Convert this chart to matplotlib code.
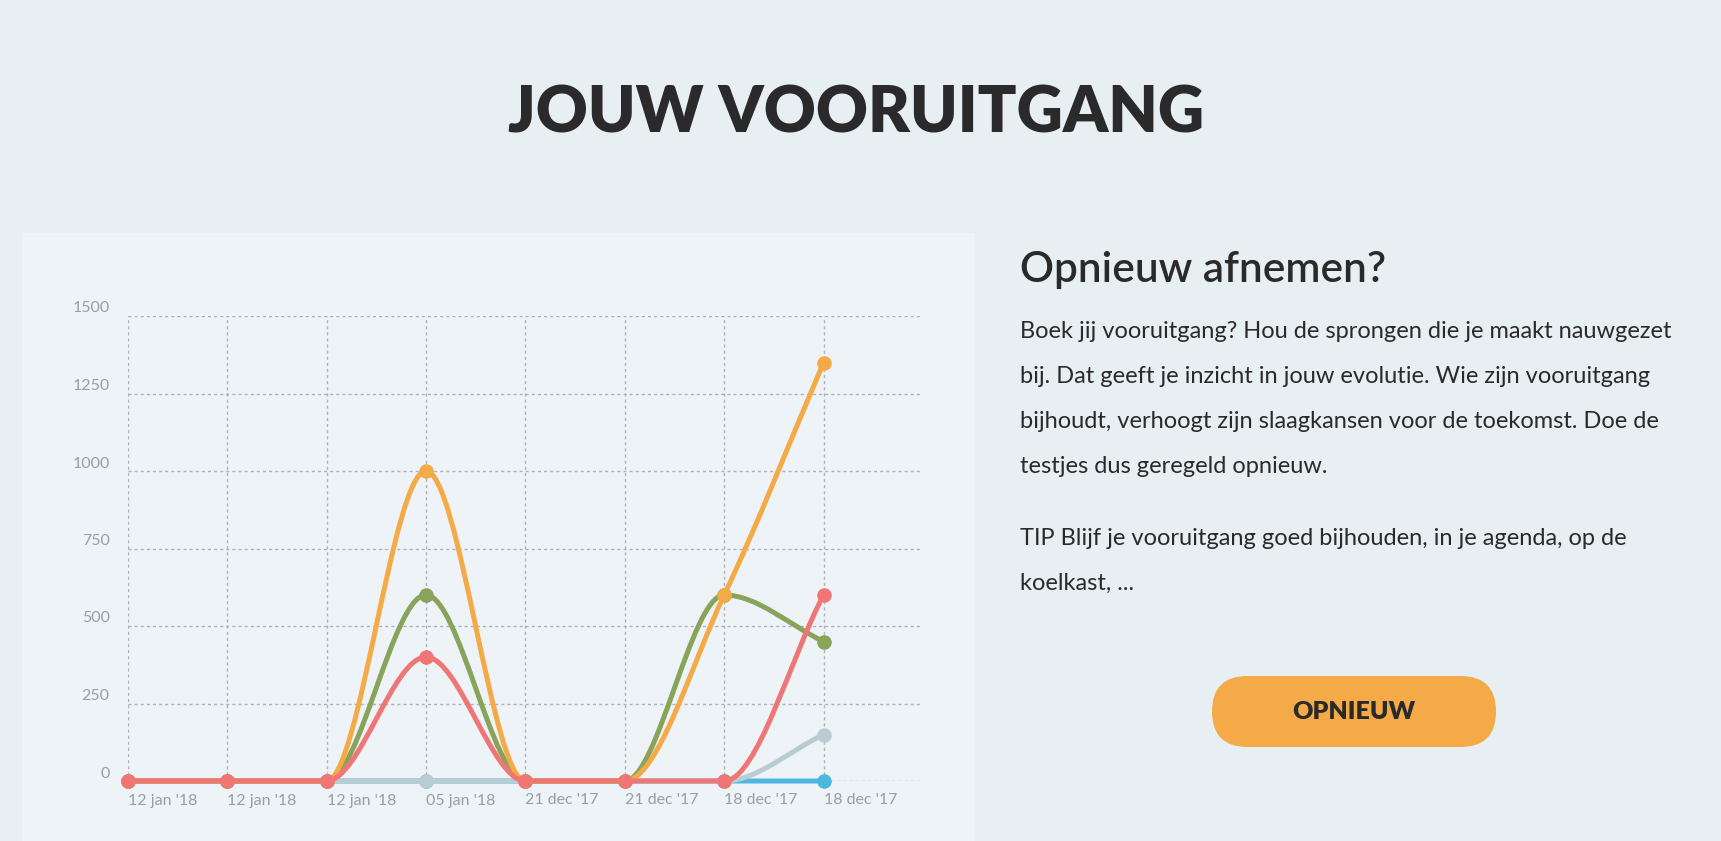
import numpy as np
import matplotlib
matplotlib.use('Agg')
import matplotlib.pyplot as plt
from matplotlib.path import Path
from matplotlib.patches import PathPatch, Rectangle, FancyBboxPatch
from matplotlib.transforms import ScaledTranslation

# --- data ---
dates = ["12 jan '18", "12 jan '18", "12 jan '18", "05 jan '18",
         "21 dec '17", "21 dec '17", "18 dec '17", "18 dec '17"]
y_ticks = [0, 250, 500, 750, 1000, 1250, 1500]

blue   = [0, 0, 0, 0, 0, 0, 0, 0]
grey   = [0, 0, 0, 0, 0, 0, 0, 150]
green  = [0, 0, 0, 600, 0, 0, 600, 450]
orange = [0, 0, 0, 1000, 0, 0, 600, 1350]
red    = [0, 0, 0, 400, 0, 0, 0, 600]

# drawn bottom -> top
series = [(blue, '#4cb8df'), (grey, '#b9ccd2'), (green, '#88a35a'),
          (orange, '#f5aa48'), (red, '#f07676')]

title = "JOUW VOORUITGANG"
subtitle = "Opnieuw afnemen?"
body_lines = ["Boek jij vooruitgang? Hou de sprongen die je maakt nauwgezet",
              "bij. Dat geeft je inzicht in jouw evolutie. Wie zijn vooruitgang",
              "bijhoudt, verhoogt zijn slaagkansen voor de toekomst. Doe de",
              "testjes dus geregeld opnieuw."]
tip_lines = ["TIP Blijf je vooruitgang goed bijhouden, in je agenda, op de",
             "koelkast, ..."]
button_text = "OPNIEUW"

page_bg = '#e8eff3'
panel_bg = '#eef3f7'
ink = '#2a2a2a'


def monotone_path(xs, ys):
    # monotone cubic (Fritsch-Carlson) as bezier segments
    n = len(xs)
    d = [(ys[i + 1] - ys[i]) / (xs[i + 1] - xs[i]) for i in range(n - 1)]
    m = [0.0] * n
    for i in range(n):
        if i == 0:
            m[i] = d[0]
        elif i == n - 1:
            m[i] = d[-1]
        elif np.sign(d[i - 1]) != np.sign(d[i]):
            m[i] = 0.0
        else:
            m[i] = (d[i - 1] + d[i]) / 2
    for i in range(n - 1):
        if d[i] == 0:
            m[i] = m[i + 1] = 0.0
            continue
        a = m[i] / d[i]
        b = m[i + 1] / d[i]
        s = a * a + b * b
        if s > 9:
            t = 3 / np.sqrt(s)
            m[i] = a * t * d[i]
            m[i + 1] = b * t * d[i]
    verts = [(xs[0], ys[0])]
    codes = [Path.MOVETO]
    for i in range(n - 1):
        dx = (xs[i + 1] - xs[i]) / 3
        verts += [(xs[i] + dx, ys[i] + dx * m[i]),
                  (xs[i + 1] - dx, ys[i + 1] - dx * m[i + 1]),
                  (xs[i + 1], ys[i + 1])]
        codes += [Path.CURVE4] * 3
    return Path(verts, codes)


W, H = 1721, 841
fig = plt.figure(figsize=(W / 100, H / 100), dpi=100, facecolor=page_bg)

# page layer in pixel units
bg = fig.add_axes([0, 0, 1, 1], zorder=0)
bg.set_xlim(0, W)
bg.set_ylim(H, 0)
bg.axis('off')
bg.add_patch(Rectangle((22, 233), 953, 640, color=panel_bg, lw=0))

bg.text(856, 132, title, ha='center', va='baseline', fontsize=46,
        fontweight='heavy', family='Lato', color=ink)
bg.text(1020, 282, subtitle, ha='left', va='baseline', fontsize=30.5,
        fontweight='semibold', family='Lato', color=ink)
for i, line in enumerate(body_lines):
    bg.text(1020, 338 + 45 * i, line, ha='left', va='baseline', fontsize=17,
            family='Lato', color=ink)
for i, line in enumerate(tip_lines):
    bg.text(1020, 545 + 45 * i, line, ha='left', va='baseline', fontsize=17,
            family='Lato', color=ink)

bg.add_patch(FancyBboxPatch((1212, 676), 284, 71,
                            boxstyle='round,pad=0,rounding_size=35.5',
                            fc='#f5aa48', ec='none'))
bg.text(1354, 719, button_text, ha='center', va='baseline', fontsize=18,
        fontweight='heavy', family='Lato', color=ink)

# chart
x0, x1 = 127.7, 923.0
y0, y1 = 781.0, 316.0
ax = fig.add_axes([x0 / W, (H - y0) / H, (x1 - x0) / W, (y0 - y1) / H], zorder=1)
ax.patch.set_alpha(0)
ax.set_xlim(0, 8)
ax.set_ylim(0, 1500)
for s in ax.spines.values():
    s.set_visible(False)

xs = np.arange(len(dates))
ax.set_xticks(xs, dates)
ax.set_yticks(y_ticks, [str(v) for v in y_ticks])
ax.grid(True, color='#aeb2b7', lw=1.0, ls=(0, (2.2, 2.2)))
ax.tick_params(length=0, colors='#9a9ea3', labelsize=11.5)
ax.tick_params(axis='x', pad=9)
ax.tick_params(axis='y', pad=13)
for lab in ax.get_xticklabels():
    lab.set_ha('left')
    lab.set_family('Lato')
for lab in ax.get_yticklabels():
    lab.set_family('Lato')
    lab.set_transform(lab.get_transform() + ScaledTranslation(0, 9 / 100, fig.dpi_scale_trans))

for k, (vals, col) in enumerate(series):
    p = PathPatch(monotone_path(xs, vals), fill=False, ec=col, lw=3.6,
                  capstyle='round', joinstyle='round', zorder=3 + k, clip_on=False)
    ax.add_patch(p)
    ax.plot(xs, vals, 'o', color=col, ms=10.5, mew=0, zorder=3 + k, clip_on=False)

fig.savefig('out.png', dpi=100, facecolor=page_bg)
